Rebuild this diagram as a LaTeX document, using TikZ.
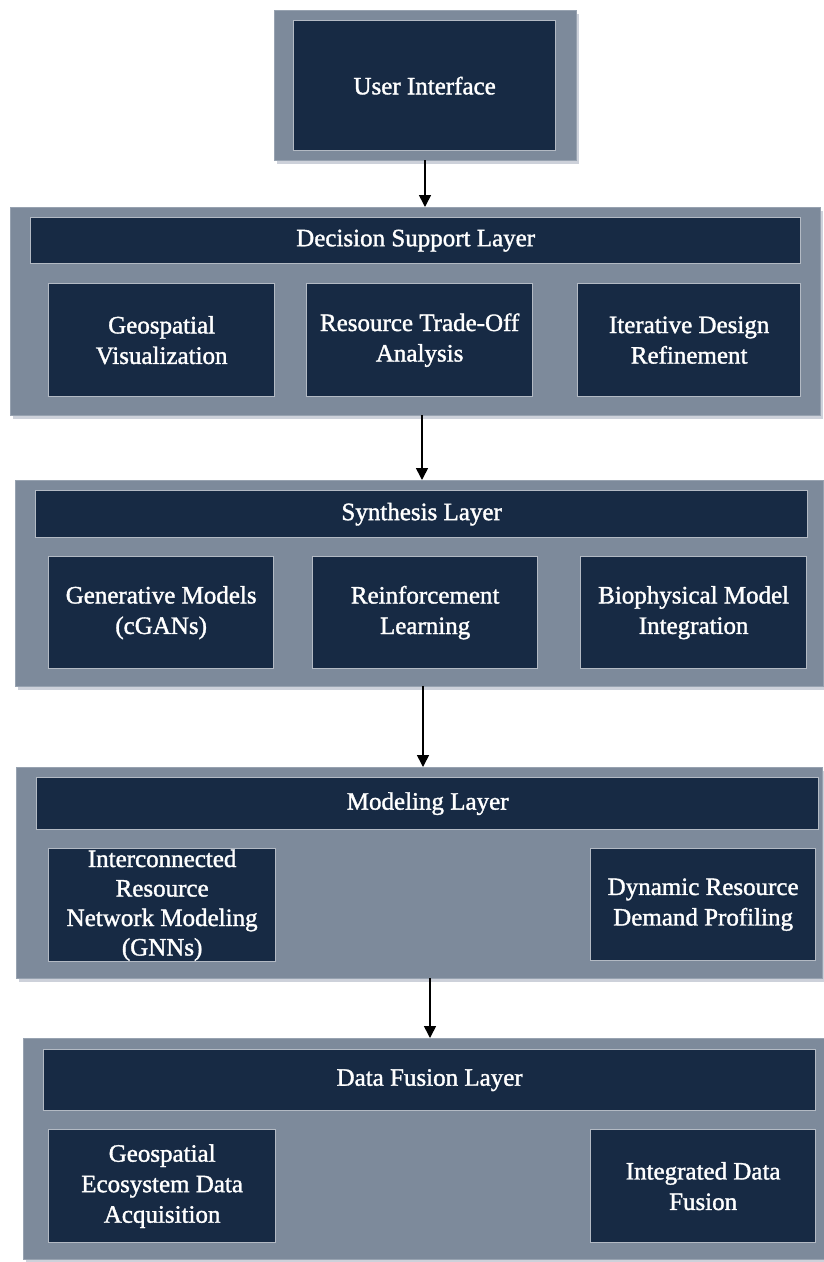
\documentclass[tikz,border=0pt]{standalone}
\usepackage{fontspec}
\setmainfont{Liberation Serif}
\newfontfamily\labelfont{Liberation Serif}[FakeBold=1.4]
\usetikzlibrary{shadows,arrows.meta,calc}
\definecolor{outerfill}{HTML}{7D8A9B}
\definecolor{outerline}{HTML}{97A2B0}
\definecolor{navy}{HTML}{172A44}
\definecolor{innerline}{HTML}{B3BAC4}
\definecolor{shadowc}{HTML}{4A5A7A}
\tikzset{
  layerbox/.style={fill=outerfill, draw=outerline, line width=0.8pt, anchor=north west, inner sep=0pt,
    drop shadow={shadow xshift=3pt, shadow yshift=-4pt, opacity=0.28, fill=shadowc}},
  navybox/.style={fill=navy, draw=innerline, line width=1.3pt, anchor=north west, inner sep=1pt,
    text=white, align=center, font=\labelfont\fontsize{25}{30.5}\selectfont},
  flow/.style={draw=black, line width=1.6pt, -{Triangle[length=12pt,width=12pt]}}
}
\begin{document}
\begin{tikzpicture}[x=1pt,y=-1pt]
\useasboundingbox (0,0) rectangle (824,1262);
% User interface
\node[layerbox, minimum width=302pt, minimum height=150pt] (uio) at (274,10) {};
\node[navybox, minimum width=262pt, minimum height=130pt] (ui) at (293,20) {User Interface};
% Decision support layer
\node[layerbox, minimum width=810pt, minimum height=208pt] (dec) at (10,207) {};
\node[navybox, minimum width=770pt, minimum height=46pt] (dech) at (30,217) {Decision Support Layer};
\node[navybox, minimum width=226pt, minimum height=113pt] (d1) at (48,283) {Geospatial\\Visualization};
\node[navybox, minimum width=226pt, minimum height=113pt] (d2) at (306,283) {Resource Trade-Off\\Analysis};
\node[navybox, minimum width=223pt, minimum height=113pt] (d3) at (577,283) {Iterative Design\\Refinement};
% Synthesis layer
\node[layerbox, minimum width=808pt, minimum height=206pt] (syn) at (15,480) {};
\node[navybox, minimum width=772pt, minimum height=47pt] (synh) at (35,490) {Synthesis Layer};
\node[navybox, minimum width=225pt, minimum height=112pt] (s1) at (48,556) {Generative Models\\(cGANs)};
\node[navybox, minimum width=225pt, minimum height=112pt] (s2) at (312,556) {Reinforcement\\Learning};
\node[navybox, minimum width=226pt, minimum height=112pt] (s3) at (580,556) {Biophysical Model\\Integration};
% Modeling layer
\node[layerbox, minimum width=806pt, minimum height=211pt] (mod) at (16,767) {};
\node[navybox, minimum width=782pt, minimum height=52pt] (modh) at (36,777) {Modeling Layer};
\node[navybox, minimum width=227pt, minimum height=112pt, font=\labelfont\fontsize{25}{29.5}\selectfont] (m1) at (48,848) {Interconnected\\Resource\\Network Modeling\\(GNNs)};
\node[navybox, minimum width=225pt, minimum height=112pt] (m2) at (590,848) {Dynamic Resource\\Demand Profiling};
% Data fusion layer
\node[layerbox, minimum width=801pt, minimum height=221pt] (dat) at (23,1038) {};
\node[navybox, minimum width=772pt, minimum height=61pt] (dath) at (43,1049) {Data Fusion Layer};
\node[navybox, minimum width=227pt, minimum height=113pt] (f1) at (48,1129) {Geospatial\\Ecosystem Data\\Acquisition};
\node[navybox, minimum width=225pt, minimum height=113pt] (f2) at (590,1129) {Integrated Data\\Fusion};
% connectors
\coordinate (a1) at (425,160);
\coordinate (a2) at (422,415);
\coordinate (a3) at (423,686);
\coordinate (a4) at (430,978);
\draw[flow] (a1) -- (a1 |- dec.north);
\draw[flow] (a2) -- (a2 |- syn.north);
\draw[flow] (a3) -- (a3 |- mod.north);
\draw[flow] (a4) -- (a4 |- dat.north);
\end{tikzpicture}
\end{document}
